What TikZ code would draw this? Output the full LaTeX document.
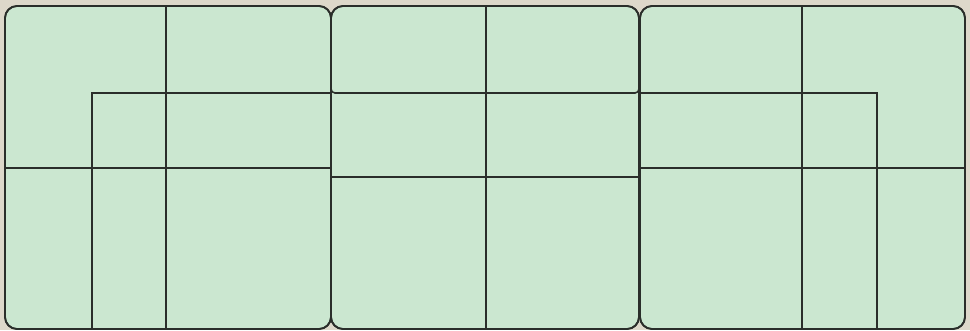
\documentclass[tikz,border=0pt]{standalone}
\usepackage{xcolor}
\definecolor{bg}{HTML}{DDD8CA}
\definecolor{panel}{HTML}{CBE7D0}
\definecolor{ink}{HTML}{2A2E2A}
\begin{document}
\begin{tikzpicture}[x=1pt,y=-1pt,
  outline/.style={draw=ink,line width=1.7pt,fill=panel,rounded corners=12pt},
  thinline/.style={draw=ink,line width=1.1pt},
  midline/.style={draw=ink,line width=1.6pt}]
\fill[bg] (0,0) rectangle (970,330);
\useasboundingbox (0,0) rectangle (970,330);
% panel 1
\path[outline] (5,6) rectangle (331,329);
\draw[thinline] (166,6) -- (166,329);
\draw[thinline] (5,168) -- (331,168);
\draw[thinline] (331,93) -- (92,93) -- (92,329);
% panel 2
\path[outline] (331,6) rectangle (639,329);
\draw[midline,rounded corners=4pt] (331,40) -- (331,93) -- (639,93) -- (639,40);
\draw[midline] (486,6) -- (486,329);
\draw[midline] (331,177) -- (639,177);
% panel 3
\path[outline] (640,6) rectangle (965,329);
\draw[thinline] (802,6) -- (802,329);
\draw[thinline] (640,168) -- (965,168);
\draw[thinline] (640,93) -- (877,93) -- (877,329);
% redraw outlines on top
\draw[draw=ink,line width=1.7pt,rounded corners=12pt] (5,6) rectangle (331,329);
\draw[draw=ink,line width=1.7pt,rounded corners=12pt] (331,6) rectangle (639,329);
\draw[draw=ink,line width=1.7pt,rounded corners=12pt] (640,6) rectangle (965,329);
\end{tikzpicture}
\end{document}
